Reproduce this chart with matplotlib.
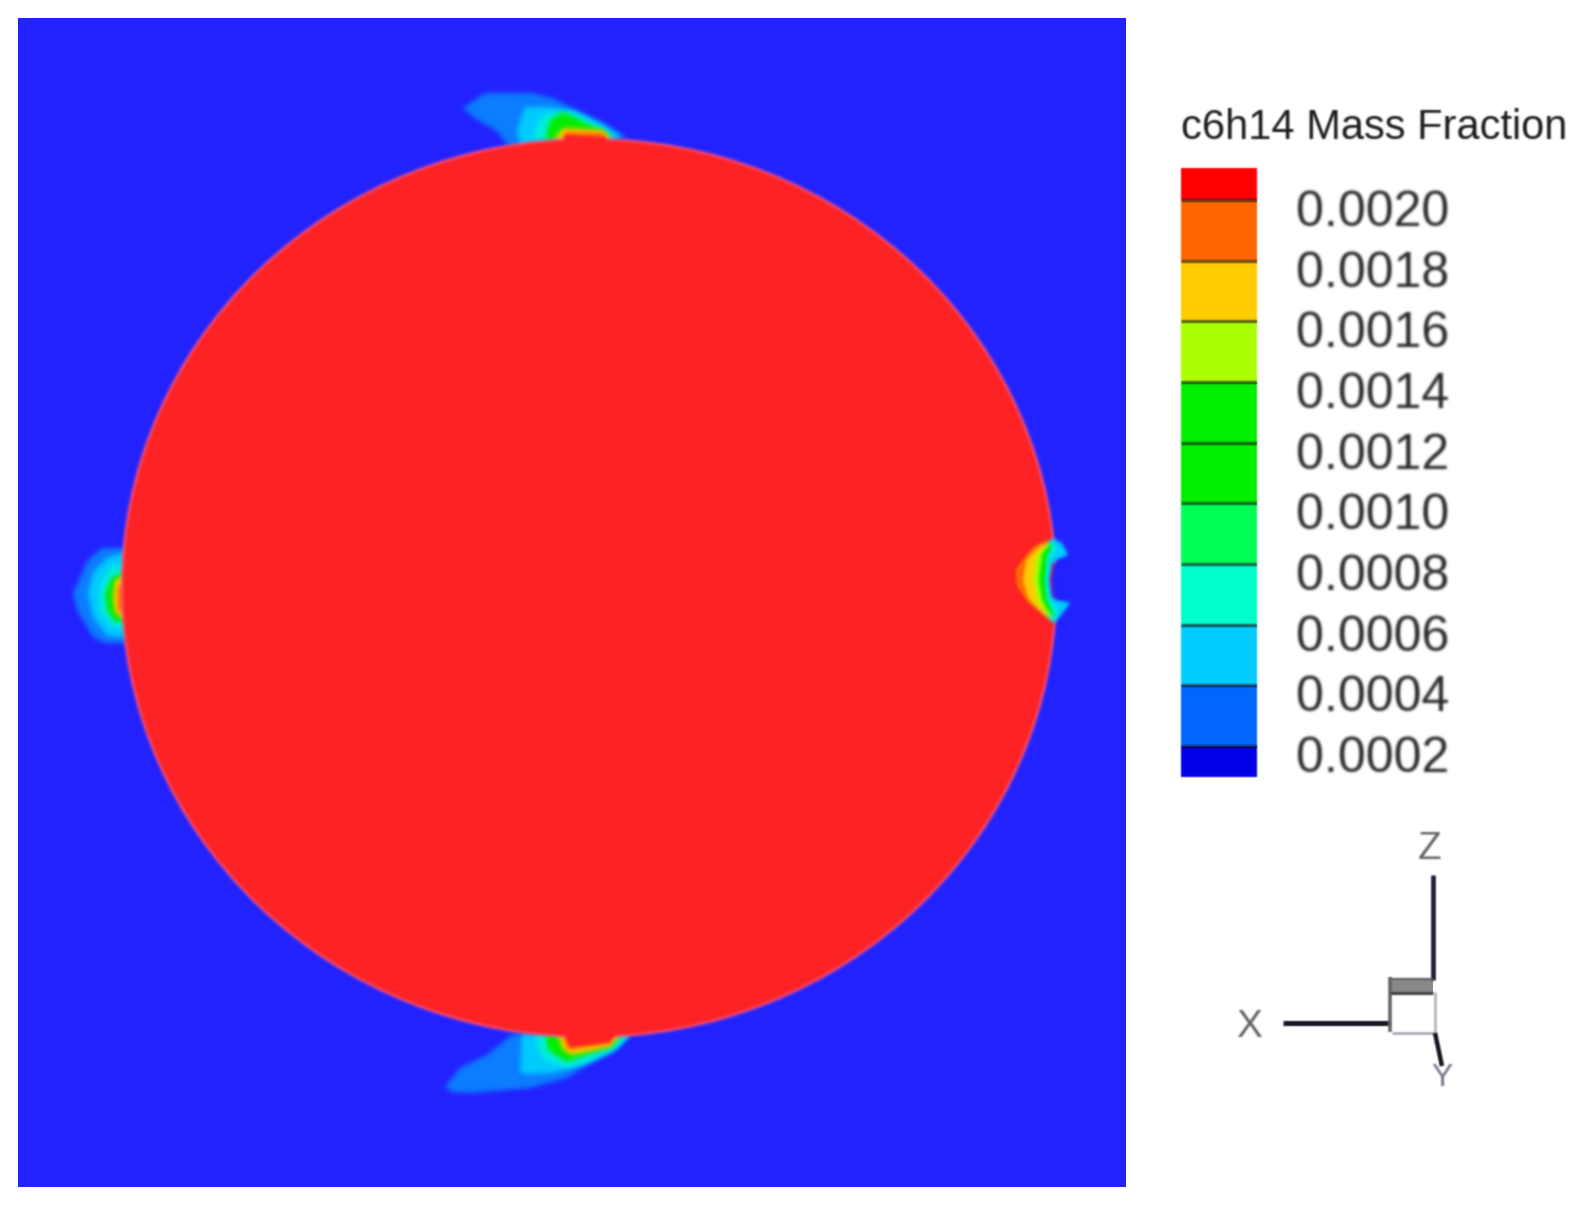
"""
plot.py
Contour slice of c6h14 mass fraction around a sphere, with legend and axis triad.
Everything in the main axes is in image pixels (y down), saved to out.png.
"""

import numpy as np
import matplotlib
matplotlib.use("Agg")
import matplotlib.pyplot as plt
from matplotlib.patches import Ellipse, Polygon, Rectangle

W, H = 1582, 1207

# ── Data ──────────────────────────────────────────────────────────────

levels = [0.0002, 0.0004, 0.0006, 0.0008, 0.0010, 0.0012, 0.0014, 0.0016, 0.0018, 0.0020]
level_labels = ["0.0002", "0.0004", "0.0006", "0.0008", "0.0010", "0.0012",
                "0.0014", "0.0016", "0.0018", "0.0020"]
band_edges = [0.0000979, 0.0002, 0.0004, 0.0006, 0.0008, 0.0010, 0.0012,
              0.0014, 0.0016, 0.0018, 0.0020, 0.002105]
band_colors = ["#0000e8", "#0066ff", "#00ccff", "#00ffcc", "#00ff55", "#00ee00",
               "#00f000", "#aaff00", "#ffcc00", "#ff6600", "#ff0000"]

BG_BLUE = "#2222ff"
RED = "#ff2222"
C_OUTER = "#0c7eff"
C_CYAN = "#00ccff"
C_TEAL = "#00eedd"
C_GREEN = "#00ee00"
C_LIME = "#aaff00"
C_YELLOW = "#ffcc00"
C_ORANGE = "#ff6600"

domain = (18, 18, 1108, 1169)   # x, y, w, h
sphere = (589, 588, 934, 898)   # cx, cy, width, height

top_plume = [
    (C_OUTER, [(463, 108), (485, 93), (530, 93), (553, 98), (580, 112), (607, 125), (627, 138), (508, 146), (498, 132), (473, 117)]),
    (C_CYAN, [(517, 130), (525, 107), (553, 107), (577, 112), (603, 125), (623, 138), (520, 146)]),
    (C_TEAL, [(533, 140), (537, 123), (547, 113), (570, 112), (597, 125), (617, 140)]),
    (C_GREEN, [(545, 140), (550, 120), (563, 112), (580, 120), (607, 133), (610, 140)]),
    (C_YELLOW, [(553, 141), (563, 128), (603, 130), (612, 140)]),
    (C_ORANGE, [(563, 140), (565, 132), (603, 133), (607, 140)]),
    (RED, [(563, 144), (565, 135), (605, 137), (608, 144)]),
]
bottom_plume = [
    (C_OUTER, [(445, 1087), (460, 1068), (487, 1055), (513, 1034), (630, 1034), (613, 1052), (587, 1065), (567, 1078), (530, 1088), (470, 1093), (452, 1092)]),
    (C_CYAN, [(520, 1072), (522, 1034), (630, 1034), (613, 1050), (587, 1063), (553, 1073), (527, 1074)]),
    (C_TEAL, [(535, 1034), (538, 1050), (545, 1060), (567, 1068), (587, 1062), (617, 1048), (630, 1034)]),
    (C_GREEN, [(545, 1034), (548, 1050), (567, 1062), (580, 1057), (610, 1047), (623, 1034)]),
    (C_YELLOW, [(557, 1034), (563, 1050), (572, 1055), (610, 1047), (620, 1034)]),
    (C_ORANGE, [(563, 1034), (568, 1050), (610, 1044), (615, 1034)]),
    (RED, [(563, 1030), (570, 1047), (610, 1042), (615, 1035), (613, 1028)]),
]
left_plume = [
    (C_OUTER, [(126, 548), (102, 548), (88, 560), (73, 593), (77, 610), (93, 637), (105, 643), (126, 643)]),
    (C_CYAN, [(126, 552), (107, 558), (93, 573), (88, 593), (93, 617), (107, 635), (126, 638)]),
    (C_TEAL, [(126, 563), (110, 567), (100, 587), (100, 610), (110, 625), (126, 630)]),
    (C_GREEN, [(126, 572), (112, 577), (105, 593), (107, 610), (113, 620), (126, 623)]),
    (C_YELLOW, [(126, 575), (115, 580), (113, 597), (115, 613), (126, 620)]),
    (C_ORANGE, [(126, 582), (118, 587), (118, 610), (126, 615)]),
]

# right plume bites into the sphere; each band gets its own inner edge so the
# blurred outer colours do not bleed through onto the red
right_plume = [
    (C_CYAN, [(1052, 538), (1062, 543), (1068, 555), (1057, 560), (1052, 565), (1050, 580), (1053, 597), (1070, 603), (1060, 617), (1053, 623),
              (1040, 605), (1036, 585), (1036, 570), (1040, 555)]),
    (C_TEAL, [(1053, 540), (1057, 550), (1050, 560), (1047, 580), (1050, 598), (1058, 608), (1055, 622),
              (1038, 605), (1034, 585), (1034, 570), (1038, 555)]),
    (C_GREEN, [(1053, 543), (1047, 557), (1045, 580), (1047, 600), (1055, 617),
               (1034, 603), (1030, 585), (1030, 570), (1036, 553)]),
    (C_LIME, [(1052, 542), (1042, 553), (1039, 580), (1042, 600), (1053, 620),
              (1030, 600), (1024, 585), (1024, 570), (1032, 552)]),
    (C_YELLOW, [(1050, 540), (1036, 557), (1033, 580), (1037, 600), (1052, 622),
                (1028, 600), (1019, 585), (1018, 570), (1026, 558), (1036, 547)]),
    (C_ORANGE, [(1044, 542), (1026, 560), (1023, 580), (1028, 598), (1046, 618),
                (1028, 601), (1017, 585), (1016, 570), (1022, 562), (1033, 549)]),
]
# background colour showing through where the sphere edge is cut away
right_notch = [(1054, 563), (1066, 560), (1066, 600), (1056, 600), (1052, 595), (1051, 580)]

# axis triad: (xs, ys, colour, width in pt)
triad_lines = [
    ([1433, 1433], [875, 980], "#1c1c34", 3.4),
    ([1283, 1390], [1023, 1023], "#15151f", 3.6),
    ([1390, 1390], [977, 1032], "#666666", 2.6),
    ([1390, 1433], [979, 979], "#666666", 1.6),
    ([1390, 1433], [993, 993], "#444444", 2.2),
    ([1392, 1435], [1033, 1033], "#aaaab4", 2.0),
    ([1435, 1435], [992, 1033], "#b4b4c0", 2.0),
    ([1435, 1442], [1033, 1066], "#14141e", 3.2),
]
triad_shade = (1390, 979, 43, 14)
triad_text = [("Z", 1430, 849, 28, "#666666"), ("X", 1249, 1027, 28, "#666666"), ("Y", 1442, 1078, 23, "#777788")]


# ── Soft edges, the source is an upscaled screenshot ──────────────────

def blur(sigma):
    """agg filter: gaussian blur of one artist, done on premultiplied colour."""
    radius = int(sigma * 3) + 1
    kernel = np.exp(-0.5 * (np.arange(-radius, radius + 1) / sigma) ** 2)
    kernel /= kernel.sum()

    def apply(img, dpi):
        out = np.zeros((img.shape[0] + 2 * radius, img.shape[1] + 2 * radius, 4))
        out[radius:-radius, radius:-radius] = img
        out[..., :3] *= out[..., 3:4]
        for axis in (0, 1):
            out = np.apply_along_axis(np.convolve, axis, out, kernel, mode="same")
        alpha = np.clip(out[..., 3:4], 1e-4, 1)
        out[..., :3] = np.clip(out[..., :3] / alpha, 0, 1)
        return out, -radius, -radius

    return apply


plt.rcParams["font.family"] = ["Liberation Sans", "DejaVu Sans"]

fig = plt.figure(figsize=(W / 100, H / 100), dpi=100, facecolor="#ffffff")
ax = fig.add_axes([0, 0, 1, 1])
ax.set_xlim(0, W)
ax.set_ylim(H, 0)
ax.axis("off")

# ── Contour slice ─────────────────────────────────────────────────────

ax.add_patch(Rectangle(domain[:2], domain[2], domain[3], color=BG_BLUE, lw=0, zorder=1))

soft = blur(2.5)
z = 2
for plume in (top_plume[:-1], bottom_plume[:-1], left_plume):
    for color, pts in plume:
        p = Polygon(pts, closed=True, facecolor=color, edgecolor="none", zorder=z)
        p.set_agg_filter(soft)
        ax.add_patch(p)
        z += 0.01

circle = Ellipse(sphere[:2], sphere[2], sphere[3], facecolor=RED, edgecolor="#ff5577",
                 linewidth=1.6, zorder=3)
circle.set_agg_filter(blur(1.5))
ax.add_patch(circle)

# red caps sit just past the sphere outline, top and bottom
z = 4
for plume in (top_plume, bottom_plume):
    color, pts = plume[-1]
    p = Polygon(pts, closed=True, facecolor=color, edgecolor="none", zorder=z)
    p.set_agg_filter(blur(1.5))
    ax.add_patch(p)

for color, pts in right_plume + [(BG_BLUE, right_notch)]:
    p = Polygon(pts, closed=True, facecolor=color, edgecolor="none", zorder=z)
    p.set_agg_filter(blur(1.8))
    ax.add_patch(p)
    z += 0.01

# ── Legend ────────────────────────────────────────────────────────────

ax.text(1181, 128, "c6h14 Mass Fraction", fontsize=30, color="#1c1c1c", ha="left",
        va="center").set_agg_filter(blur(0.9))

cax = fig.add_axes([1181 / W, 1 - 777 / H, 76 / W, (777 - 168) / H])
cax.set_xlim(0, 1)
cax.set_ylim(band_edges[0], band_edges[-1])
cax.axis("off")
bars = cax.bar(0.5, np.diff(band_edges), width=1, bottom=band_edges[:-1], color=band_colors,
               linewidth=0, clip_on=False)
for bar in bars:
    bar.set_agg_filter(blur(0.8))
seps = cax.hlines(levels, 0, 1, color="#000000", alpha=0.55, linewidth=2.4)
seps.set_agg_filter(blur(0.7))

for level, label in zip(levels, level_labels):
    cax.annotate(label, xy=(1, level), xytext=(1296 - 1257, -13),
                 xycoords="data", textcoords="offset pixels", annotation_clip=False,
                 fontsize=36, color="#2a2a2a", ha="left", va="center").set_agg_filter(blur(0.9))

# ── Axis triad ────────────────────────────────────────────────────────

ax.add_patch(Rectangle(triad_shade[:2], triad_shade[2], triad_shade[3], color="#888888", lw=0,
                       zorder=5))
for xs, ys, color, lw in triad_lines:
    line, = ax.plot(xs, ys, color=color, lw=lw, solid_capstyle="butt", zorder=6)
    line.set_agg_filter(blur(0.8))
for name, x, y, size, color in triad_text:
    ax.text(x, y, name, fontsize=size, color=color, ha="center", va="center",
            zorder=7).set_agg_filter(blur(0.9))

fig.savefig("out.png", dpi=100, facecolor="#ffffff")
